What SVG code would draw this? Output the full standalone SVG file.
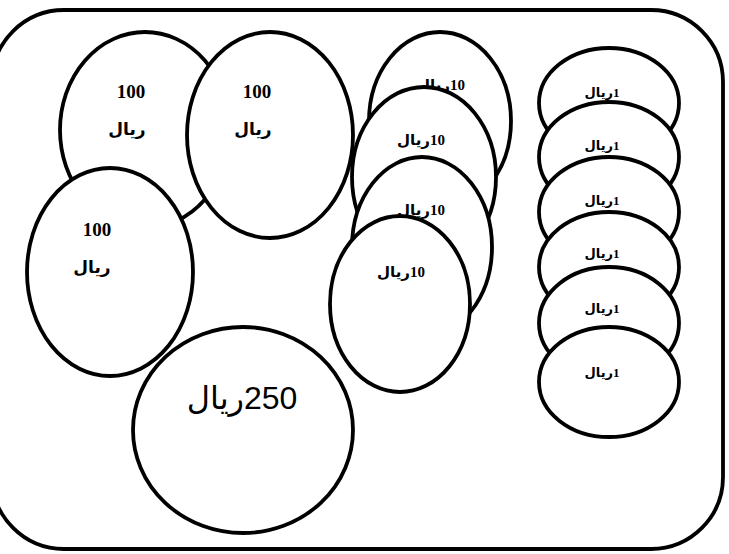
<svg xmlns="http://www.w3.org/2000/svg" width="729" height="554" viewBox="0 0 729 554">
<style>
.c{fill:#fff;stroke:#000;stroke-width:3.8}
.frame{fill:#fff;stroke:#000;stroke-width:3.8}
.t100{font-family:"Liberation Serif","DejaVu Sans",serif;font-weight:bold;font-size:19px;fill:#000;text-anchor:middle}
.ar{font-size:17px}
.t10{font-family:"Liberation Serif","DejaVu Sans",serif;font-weight:bold;font-size:15px;fill:#000;text-anchor:middle}
.t1{font-family:"Liberation Serif","DejaVu Sans",serif;font-weight:bold;font-size:13px;fill:#000;text-anchor:middle}
.t250{font-family:"Liberation Sans","DejaVu Sans",sans-serif;font-size:32px;fill:#000;text-anchor:middle}
</style>
<rect width="729" height="554" fill="#fff"/>
<rect class="frame" x="-8" y="10" width="731" height="539" rx="72" ry="72"/>
<g id="connectors"/>
<g id="r100a"><ellipse class="c" cx="145" cy="130" rx="85" ry="98"/><text class="t100" x="131" y="98">100</text><text class="t100 ar" x="127" y="135" direction="rtl">ریال</text></g>
<g id="r100b"><ellipse class="c" cx="270" cy="135" rx="83" ry="103"/><text class="t100" x="257" y="98">100</text><text class="t100 ar" x="253" y="135" direction="rtl">ریال</text></g>
<g id="r100c"><ellipse class="c" cx="110" cy="272" rx="83" ry="104"/><text class="t100" x="97" y="236">100</text><text class="t100 ar" x="92" y="273" direction="rtl">ریال</text></g>
<g id="r250"><ellipse class="c" cx="243" cy="430" rx="110" ry="103"/><text class="t250" x="242" y="409" direction="rtl">250ریال</text></g>
<g id="r10a"><ellipse class="c" cx="440" cy="121" rx="71" ry="89"/><text class="t10" x="441" y="90" direction="rtl">10ریال</text></g>
<g id="r10b"><ellipse class="c" cx="424" cy="177" rx="72" ry="90"/><text class="t10" x="421" y="145" direction="rtl">10ریال</text></g>
<g id="r10c"><ellipse class="c" cx="422" cy="247" rx="70" ry="90"/><text class="t10" x="421" y="215" direction="rtl">10ریال</text></g>
<g id="r10d"><ellipse class="c" cx="400" cy="304" rx="70" ry="88"/><text class="t10" x="401" y="277" direction="rtl">10ریال</text></g>
<g id="r1a"><ellipse class="c" cx="609" cy="103" rx="70" ry="55"/><text class="t1" x="602" y="97" direction="rtl">1ریال</text></g>
<g id="r1b"><ellipse class="c" cx="609" cy="157" rx="70" ry="55"/><text class="t1" x="602" y="150" direction="rtl">1ریال</text></g>
<g id="r1c"><ellipse class="c" cx="609" cy="212" rx="70" ry="55"/><text class="t1" x="602" y="205" direction="rtl">1ریال</text></g>
<g id="r1d"><ellipse class="c" cx="609" cy="267" rx="70" ry="55"/><text class="t1" x="602" y="258" direction="rtl">1ریال</text></g>
<g id="r1e"><ellipse class="c" cx="609" cy="323" rx="70" ry="56"/><text class="t1" x="602" y="313" direction="rtl">1ریال</text></g>
<g id="r1f"><ellipse class="c" cx="609" cy="382" rx="70" ry="55"/><text class="t1" x="602" y="377" direction="rtl">1ریال</text></g>
</svg>
